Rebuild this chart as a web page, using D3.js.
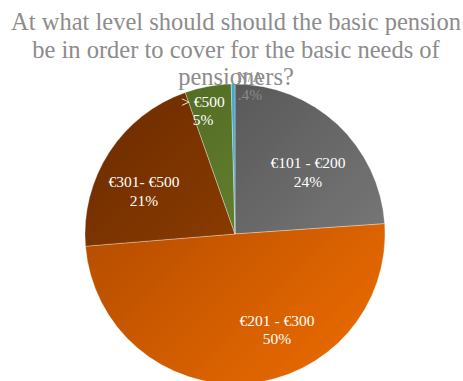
<!DOCTYPE html>
<html>
<head>
<meta charset="utf-8">
<script src="https://cdn.jsdelivr.net/npm/d3@7"></script>
</head>
<body style="margin:0">
<svg id="chart" width="463" height="381"></svg>
<script>
// Survey answers: share of respondents per pension level
const categories = ["€101 - €200", "€201 - €300", "€301- €500", "> €500", "N/A"];
const values = [24, 50, 21, 5, 0.4];
const valueLabels = ["24%", "50%", "21%", "5%", ".4%"];
const titleLines = [
  "At what level should should the basic pension",
  "be in order to cover for the basic needs of",
  "pensioners?"
];

// Gradient stops per slice (dark top-left → light bottom-right)
const sliceColors = [
  ["#4a4a4a", "#858585"],
  ["#a24200", "#f06e00"],
  ["#6a2a00", "#a84c00"],
  ["#4c6420", "#76983a"],
  ["#3aa6d0", "#4ab4dc"]
];
const labelColors = ["#ffffff", "#ffffff", "#ffffff", "#ffffff", "#8a8a8a"];
const serif = "Times New Roman";

const svg = d3.select("#chart");
const cx = 235, cy = 234, r = 150;

const defs = svg.append("defs");
sliceColors.forEach((c, i) => {
  const g = defs.append("linearGradient")
    .attr("id", "grad" + i)
    .attr("gradientUnits", "userSpaceOnUse")
    .attr("x1", -r).attr("y1", -r)
    .attr("x2", r).attr("y2", r);
  g.append("stop").attr("offset", "0%").attr("stop-color", c[0]);
  g.append("stop").attr("offset", "100%").attr("stop-color", c[1]);
});

const data = categories.map((c, i) => ({ cat: c, value: values[i], label: valueLabels[i], i }));

const pie = d3.pie().value(d => d.value).sort(null);
const arcs = pie(data);
const arc = d3.arc().innerRadius(0).outerRadius(r);

const g = svg.append("g").attr("transform", `translate(${cx},${cy})`);

g.selectAll("path.slice")
  .data(arcs)
  .join("path")
  .attr("class", "slice")
  .attr("d", arc)
  .attr("fill", d => `url(#grad${d.data.i})`)
  .attr("stroke", "rgba(255,255,255,0.45)")
  .attr("stroke-width", 0.7);

// Title, one text element per line
svg.selectAll("text.title")
  .data(titleLines)
  .join("text")
  .attr("class", "title")
  .attr("x", 236)
  .attr("y", (d, i) => 30 + i * 27.5)
  .attr("text-anchor", "middle")
  .attr("font-size", 24.5)
  .attr("fill", "#8c8c8c")
  .style("font-family", `"${serif}"`)
  .text(d => d);

// Slice labels: category line and share line
const labelPos = [
  [73, -66],
  [42, 92],
  [-91, -47],
  [-32, -127],
  [15, -152]
];
const lineGap = [19, 18, 19, 18, 18];
const lines = arcs.flatMap(a => [
  { a, text: a.data.cat, dy: 0 },
  { a, text: a.data.label, dy: lineGap[a.data.i] }
]);
g.selectAll("text.lbl")
  .data(lines)
  .join("text")
  .attr("class", "lbl")
  .attr("x", d => labelPos[d.a.data.i][0])
  .attr("y", d => labelPos[d.a.data.i][1] + d.dy)
  .attr("text-anchor", "middle")
  .attr("font-size", 15.5)
  .attr("fill", d => labelColors[d.a.data.i])
  .style("font-family", `"${serif}"`)
  .text(d => d.text);
</script>
</body>
</html>
